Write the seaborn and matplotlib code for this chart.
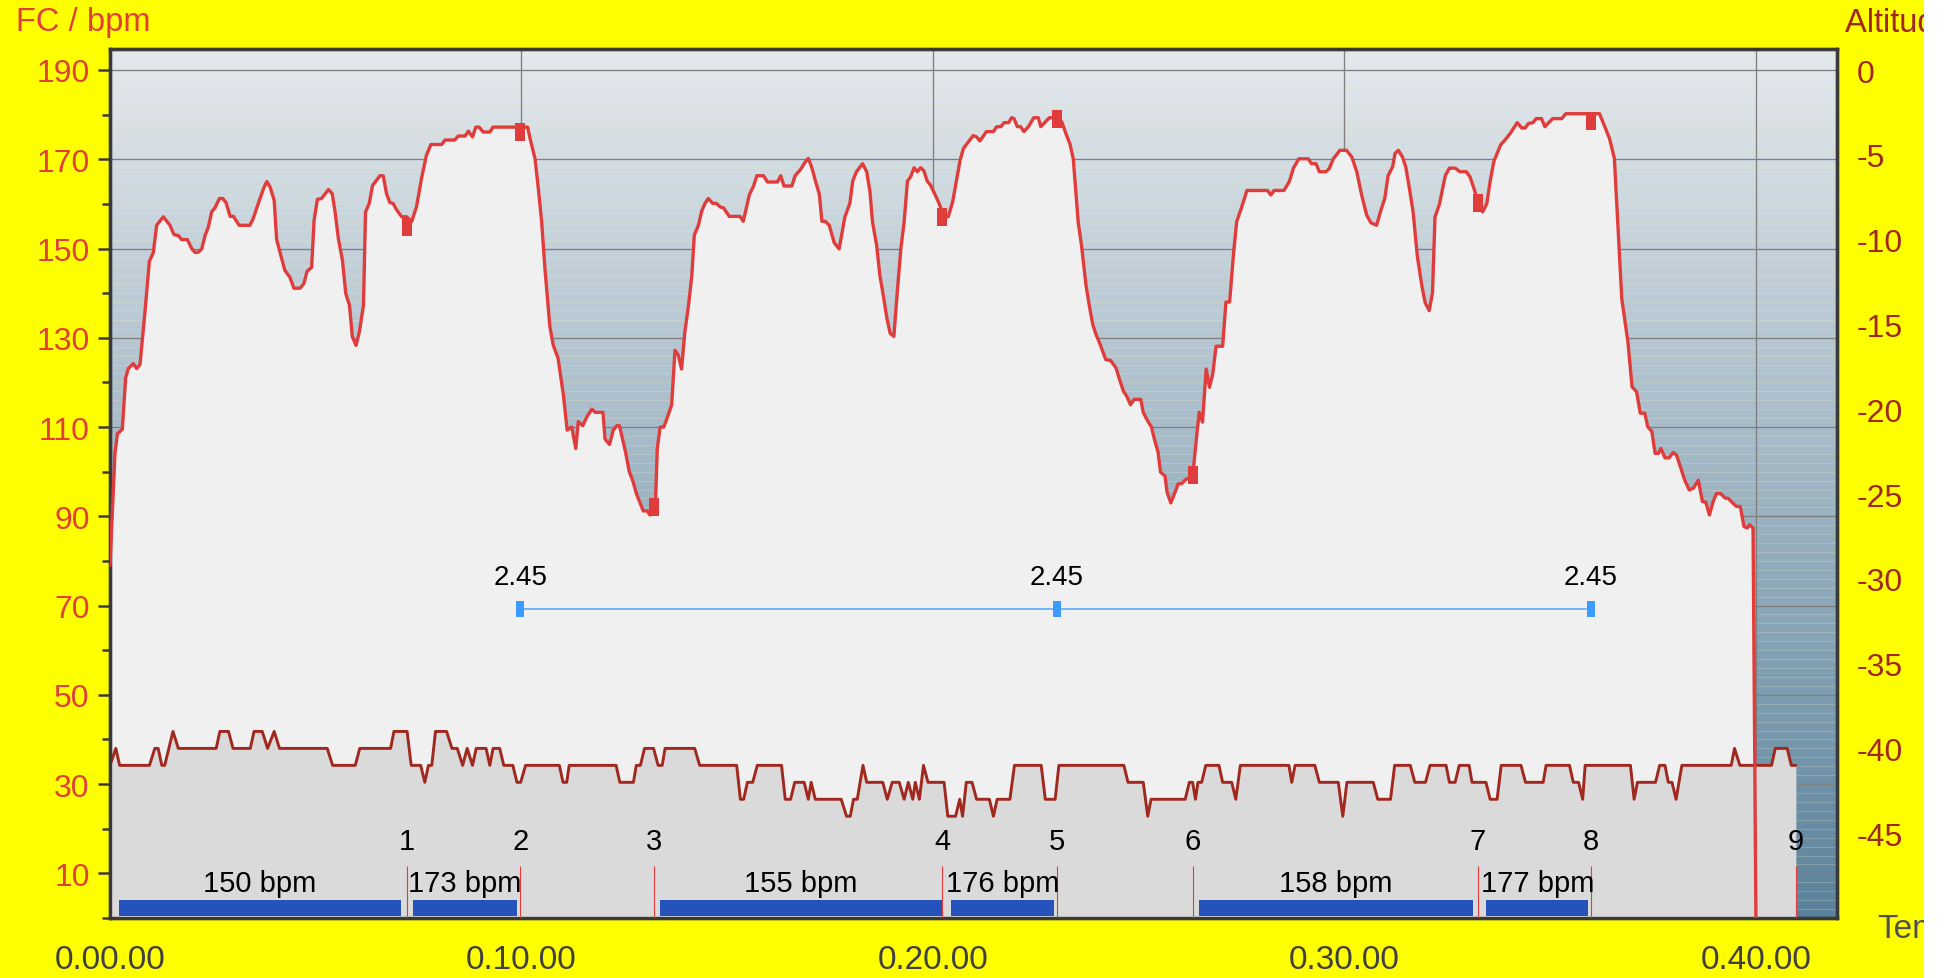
import numpy as np
import matplotlib
matplotlib.use("Agg")
import matplotlib.pyplot as plt
from matplotlib.ticker import FixedLocator, FuncFormatter
from matplotlib.colors import LinearSegmentedColormap
from matplotlib.patches import Rectangle
import seaborn as sns

sns.set_style("white")
plt.rcParams['font.family'] = ['Liberation Sans', 'DejaVu Sans']
plt.rcParams['axes.unicode_minus'] = False

# Heart rate (bpm) against elapsed time (minutes)
hr_time = [0.0, 0.12, 0.18, 0.3, 0.38, 0.445, 0.567, 0.648, 0.729, 0.85, 0.956, 1.053, 1.134, 1.296, 1.458,
           1.555, 1.66, 1.74, 1.88, 1.99, 2.07, 2.15, 2.23, 2.31, 2.39, 2.47, 2.55, 2.66, 2.74, 2.82, 2.92,
           3.0, 3.14, 3.40, 3.48, 3.60, 3.73, 3.81, 3.89, 3.99, 4.05, 4.13, 4.25, 4.37, 4.47, 4.62, 4.71,
           4.79, 4.90, 4.96, 5.04, 5.14, 5.31, 5.40, 5.47, 5.55, 5.65, 5.73, 5.82, 5.89, 5.98, 6.06, 6.16,
           6.21, 6.30, 6.38, 6.48, 6.56, 6.64, 6.72, 6.80, 6.88, 6.97, 7.09, 7.21, 7.33, 7.45, 7.57, 7.69,
           7.80, 8.06, 8.14, 8.38, 8.46, 8.63, 8.71, 8.81, 8.89, 8.97, 9.07, 9.23, 9.31, 10.15, 10.21,
           10.33, 10.41, 10.49, 10.57, 10.69, 10.77, 10.89, 11.02, 11.11, 11.22, 11.32, 11.38, 11.49,
           11.59, 11.71, 11.79, 11.98, 12.03, 12.14, 12.23, 12.32, 12.38, 12.52, 12.62, 12.70, 12.80,
           12.96, 13.06, 13.12, 13.25, 13.30, 13.37, 13.46, 13.55, 13.65, 13.73, 13.81, 13.89, 13.97,
           14.06, 14.14, 14.20, 14.30, 14.38, 14.46, 14.54, 14.65, 14.74, 14.83, 14.91, 15.05, 15.31,
           15.39, 15.54, 15.64, 15.72, 15.88, 15.98, 16.22, 16.30, 16.38, 16.57, 16.65, 16.79, 16.89,
           16.97, 17.05, 17.14, 17.24, 17.30, 17.38, 17.48, 17.60, 17.72, 17.86, 17.98, 18.05, 18.14,
           18.29, 18.39, 18.47, 18.53, 18.63, 18.71, 18.79, 18.88, 18.96, 19.05, 19.14, 19.22, 19.30,
           19.38, 19.46, 19.54, 19.62, 19.70, 19.78, 19.86, 19.94, 20.05, 20.15, 20.25, 20.37, 20.48,
           20.58, 20.66, 20.74, 20.86, 20.98, 21.06, 21.14, 21.30, 21.47, 21.55, 21.65, 21.73, 21.84,
           21.91, 21.97, 22.05, 22.13, 22.21, 22.32, 22.45, 22.56, 22.62, 22.83, 23.01, 23.13, 23.25,
           23.33, 23.41, 23.53, 23.61, 23.72, 23.80, 23.88, 23.96, 24.06, 24.20, 24.32, 24.45, 24.53,
           24.63, 24.71, 24.80, 24.89, 25.05, 25.11, 25.21, 25.31, 25.39, 25.47, 25.53, 25.64, 25.69,
           25.78, 25.88, 25.96, 26.04, 26.15, 26.31, 26.41, 26.47, 26.55, 26.64, 26.72, 26.80, 26.88,
           27.04, 27.12, 27.21, 27.30, 27.38, 27.50, 27.63, 28.13, 28.21, 28.29, 28.53, 28.66, 28.76,
           28.89, 29.12, 29.20, 29.31, 29.39, 29.55, 29.63, 29.73, 29.89, 30.05, 30.18, 30.30, 30.42,
           30.54, 30.64, 30.78, 30.88, 30.98, 31.06, 31.17, 31.23, 31.31, 31.41, 31.49, 31.58, 31.67,
           31.77, 31.88, 31.96, 32.06, 32.14, 32.20, 32.31, 32.45, 32.55, 32.69, 32.81, 32.96, 33.05,
           33.15, 33.25, 33.36, 33.46, 33.54, 33.63, 33.80, 33.90, 34.03, 34.20, 34.31, 34.39, 34.47,
           34.58, 34.66, 34.79, 34.87, 35.06, 35.28, 35.38, 36.2, 36.44, 36.56, 36.66, 36.74, 36.89,
           36.99, 37.10, 37.19, 37.30, 37.37, 37.47, 37.55, 37.63, 37.69, 37.79, 37.89, 37.99, 38.07,
           38.15, 38.27, 38.38, 38.48, 38.60, 38.70, 38.78, 38.87, 38.96, 39.04, 39.14, 39.25, 39.33,
           39.41, 39.53, 39.62, 39.71, 39.79, 39.85, 39.93, 40.0]
hr_bpm = [79, 104, 108.5, 109.5, 121, 123.1, 124.2, 123.1, 124.0, 135.8, 147.1, 149.1, 155.2, 157.1, 155.2,
          153.1, 152.9, 152.0, 152.0, 149.9, 149.1, 149.2, 149.9, 152.9, 154.8, 158.2, 159.1, 161.2, 161.2,
          160.3, 157.2, 157.2, 155.2, 155.2, 156.7, 160.0, 163.4, 165.0, 163.8, 160.8, 152.0, 149.2, 145.1,
          143.6, 141.1, 141.1, 142.1, 144.9, 145.8, 156.3, 161.0, 161.2, 163.2, 162.3, 158.2, 152.2, 147.3,
          139.9, 137.3, 130.2, 128.3, 131.3, 137.3, 158.2, 160.1, 164.1, 165.3, 166.3, 166.3, 162.3, 160.3,
          160.1, 158.6, 157.1, 157.1, 156.0, 159.4, 165.7, 170.9, 173.3, 173.3, 174.3, 174.3, 175.2, 175.2,
          176.3, 175.0, 177.2, 177.2, 176.1, 176.1, 177.2, 177.2, 174.6, 170.1, 163.4, 156.0, 145.5, 132.5,
          128.4, 125.4, 117.1, 109.3, 110.0, 105.2, 111.2, 110.3, 112.3, 114.0, 113.3, 113.3, 107.3, 106.1,
          109.3, 110.3, 110.3, 104.8, 100.0, 98.1, 94.9, 91.2, 91.2, 90.3, 91.0, 105.2, 110.0, 110.0, 112.3,
          115.0, 127.2, 126.1, 123.0, 131.3, 137.3, 144.0, 153.0, 155.2, 158.4, 160.1, 161.2, 160.1, 160.1,
          159.3, 159.1, 157.2, 157.2, 156.1, 162.1, 164.0, 166.3, 166.3, 164.9, 164.9, 166.3, 164.0, 164.0,
          166.3, 167.8, 169.3, 170.2, 168.3, 165.3, 162.1, 156.1, 156.1, 155.2, 151.3, 149.9, 157.1, 160.1,
          165.1, 167.2, 169.0, 167.2, 162.7, 156.0, 150.8, 144.0, 139.6, 134.4, 131.0, 130.3, 141.1, 150.0,
          156.0, 165.1, 166.1, 168.1, 167.2, 168.1, 167.4, 165.1, 164.2, 162.1, 160.1, 157.5, 157.1, 160.5,
          165.7, 169.8, 172.4, 173.9, 175.3, 175.0, 174.1, 176.2, 176.2, 177.3, 177.3, 178.2, 178.2, 179.3,
          179.1, 177.3, 177.3, 176.2, 177.3, 179.3, 179.3, 177.3, 179.3, 179.3, 178.4, 175.3, 173.4, 170.1,
          155.9, 150.7, 141.7, 137.2, 133.1, 130.8, 128.6, 125.1, 124.9, 123.2, 120.8, 118.0, 116.9, 115.0,
          116.2, 116.2, 113.3, 111.5, 110.0, 107.0, 104.4, 99.9, 99.0, 95.4, 93.0, 95.3, 97.3, 97.3, 98.3,
          98.8, 108.1, 113.3, 111.1, 123.0, 118.9, 121.9, 128.1, 128.1, 138.0, 138.0, 148.4, 156.0, 159.2,
          163.0, 163.0, 162.0, 163.0, 163.0, 165.0, 168.0, 170.1, 170.1, 169.0, 169.0, 167.2, 167.2, 167.9,
          170.1, 172.0, 172.0, 170.5, 167.2, 161.9, 157.5, 155.8, 155.2, 158.4, 161.2, 166.3, 168.3, 171.3,
          172.0, 170.5, 168.3, 163.4, 158.1, 148.4, 141.7, 137.9, 136.1, 140.1, 157.0, 160.0, 166.3, 168.0,
          168.0, 167.2, 167.2, 166.1, 163.4, 160.1, 158.2, 160.1, 165.0, 169.5, 173.3, 174.3, 175.8, 178.2,
          177.0, 177.0, 178.0, 178.2, 179.1, 179.1, 177.3, 179.1, 179.1, 180.2, 180.2, 174.7, 170.2, 152.9,
          138.7, 129.0, 119.0, 117.9, 113.1, 113.1, 110.1, 109.0, 104.1, 104.1, 105.2, 103.1, 103.1, 104.3,
          103.7, 101.5, 98.1, 95.9, 96.3, 98.1, 93.3, 93.2, 90.3, 93.3, 95.1, 95.1, 94.1, 94.0, 93.2, 92.2,
          92.2, 87.7, 87.4, 88.1, 87.4, 0]

# Altitude (m) against elapsed time (minutes)
alt_time = [0.0, 0.142, 0.234, 0.959, 1.09, 1.17, 1.26, 1.33, 1.53, 1.66, 2.58, 2.67, 2.88, 2.99, 3.41, 3.50,
            3.70, 3.83, 3.99, 4.12, 5.28, 5.41, 5.96, 6.07, 6.82, 6.90, 7.22, 7.32, 7.55, 7.65, 7.74, 7.82,
            7.91, 8.18, 8.31, 8.44, 8.57, 8.68, 8.81, 8.90, 9.14, 9.23, 9.31, 9.47, 9.57, 9.79, 9.89, 9.98,
            10.10, 10.92, 11.01, 11.10, 11.16, 12.30, 12.39, 12.72, 12.79, 12.89, 12.99, 13.21, 13.32, 13.42,
            13.49, 14.21, 14.33, 15.23, 15.32, 15.40, 15.49, 15.62, 15.73, 16.32, 16.41, 16.54, 16.64, 16.87,
            16.97, 17.04, 17.14, 17.77, 17.90, 17.99, 18.07, 18.16, 18.30, 18.39, 18.78, 18.89, 19.01, 19.18,
            19.30, 19.40, 19.51, 19.57, 19.67, 19.77, 19.88, 20.27, 20.36, 20.55, 20.65, 20.72, 20.81, 20.95,
            21.06, 21.37, 21.47, 21.56, 21.87, 21.98, 22.63, 22.73, 22.97, 23.06, 24.64, 24.74, 25.11, 25.22,
            25.30, 26.13, 26.23, 26.31, 26.38, 26.44, 26.53, 26.63, 26.95, 27.04, 27.26, 27.36, 27.47, 28.65,
            28.72, 28.80, 29.28, 29.39, 29.85, 29.96, 30.06, 30.70, 30.81, 31.12, 31.22, 31.60, 31.71, 31.97,
            32.08, 32.47, 32.55, 32.69, 32.79, 33.03, 33.10, 33.44, 33.54, 33.71, 33.81, 34.29, 34.40, 34.83,
            34.90, 35.47, 35.56, 35.69, 35.79, 35.85, 36.95, 37.04, 37.12, 37.56, 37.66, 37.79, 37.87, 37.96,
            38.06, 38.20, 39.40, 39.48, 39.61, 40.38, 40.47, 40.76, 40.86, 40.97]
alt_m = [-41, -40, -41, -41, -40, -40, -41, -41, -39, -40, -40, -39, -39, -40, -40, -39,
         -39, -40, -39, -40, -40, -41, -41, -40, -40, -39, -39, -41, -41, -42, -41, -41,
         -39, -39, -40, -40, -41, -40, -41, -40, -40, -41, -40, -40, -41, -41, -42, -42,
         -41, -41, -42, -42, -41, -41, -42, -42, -41, -41, -40, -40, -41, -41,
         -40, -40, -41, -41, -43, -43, -42, -42, -41, -41, -43, -43, -42, -42,
         -43, -42, -43, -43, -44, -44, -43, -43, -41, -42, -42, -43, -42, -42,
         -43, -42, -43, -42, -43, -41, -42, -42, -44, -44, -43, -44, -42, -42,
         -43, -43, -44, -43, -43, -41, -41, -43, -43, -41, -41, -42, -42, -44,
         -43, -43, -42, -42, -43, -42, -42, -41, -41, -42, -42, -43, -41, -41,
         -42, -41, -41, -42, -42, -44, -42, -42, -43, -43, -41, -41, -42, -42,
         -41, -41, -42, -42, -41, -41, -42, -42, -43, -43, -41, -41, -42, -42,
         -41, -41, -42, -42, -43, -41, -41, -43, -42, -42, -41, -41, -42, -42,
         -43, -41, -41, -40, -41, -41, -40, -40, -41, -41]

# Laps
lap_time = [7.22, 9.97, 13.21, 20.23, 23.01, 26.31, 33.24, 35.99, 40.97]
lap_names = ["1", "2", "3", "4", "5", "6", "7", "8", "9"]
lap_hr = [154.9, 176.1, 92.0, 157.1, 179.0, 99.2, 160.2, 178.5]

# Work intervals with their mean heart rate
interval_start = [0.22, 7.36, 13.37, 20.44, 26.46, 33.45]
interval_end = [7.06, 9.88, 20.21, 22.95, 33.12, 35.93]
interval_labels = ["150 bpm", "173 bpm", "155 bpm", "176 bpm", "158 bpm", "177 bpm"]

# Lap distance markers
dist_time = [9.97, 23.01, 35.99]
dist_value = [2.45, 2.45, 2.45]

HR_RED = '#e03c3c'
ALT_RED = '#a0281e'
SPINE = '#3a3a3a'
XMAX, YMAX = 41.97, 194.7
DIST_Y = 69.3

fig = plt.figure(figsize=(19.52, 9.79), dpi=100, facecolor='#ffff00')
ax = fig.add_axes([0.05635, 0.06129, 0.88473, 0.88764])
ax.set_xlim(0, XMAX)
ax.set_ylim(0, YMAX)

# gradient background
cmap = LinearSegmentedColormap.from_list('bg', ['#5b829b', '#e4e9ed'])
grad = np.linspace(0, 1, 256).reshape(-1, 1)
ax.imshow(grad, extent=[0, XMAX, 0, YMAX], origin='lower', aspect='auto', cmap=cmap, zorder=0)

# faint minor lines
for yv in np.arange(2, YMAX, 2):
    ax.axhline(yv, color='#eef2c0', lw=0.6, alpha=0.28, zorder=0.3)

ax.yaxis.set_major_locator(FixedLocator(list(range(10, 191, 20))))
ax.yaxis.set_minor_locator(FixedLocator(list(range(0, 191, 20))))
ax.xaxis.set_major_locator(FixedLocator([0, 10, 20, 30, 40]))
ax.xaxis.set_minor_locator(FixedLocator([5, 15, 25, 35]))
ax.xaxis.set_major_formatter(FuncFormatter(lambda m, p: f"0.{int(round(m)):02d}.00"))
ax.grid(True, which='major', color='#7f7f7f', lw=0.95, zorder=0.5)
ax.set_axisbelow(True)

ax.fill_between(hr_time, hr_bpm, 0, color='#f0f0f0', lw=0, zorder=1)

ax.tick_params(axis='x', which='both', length=8.6, width=1.8, color=SPINE,
               labelsize=24, labelcolor='#404040', pad=10)
ax.tick_params(axis='y', which='major', length=8.6, width=1.8, color=SPINE,
               labelsize=23, labelcolor='#e0403a', pad=6)
ax.tick_params(axis='y', which='minor', length=5.8, width=1.8, color=SPINE)

# altitude on the right axis
ax2 = ax.twinx()
ax2.set_ylim(-50, 1.24)
ax2.fill_between(alt_time, alt_m, -50, color='#dadada', lw=0, zorder=1)
sns.lineplot(x=alt_time, y=alt_m, ax=ax2, color=ALT_RED, lw=2.1, zorder=2, sort=False)

# heart rate line and lap markers drawn in left-axis units
td = ax.transData
sns.lineplot(x=hr_time, y=hr_bpm, ax=ax2, color=HR_RED, lw=2.4, zorder=3, sort=False, transform=td)
lap_marker = [(-0.28, -0.5), (0.28, -0.5), (0.28, 0.5), (-0.28, 0.5)]
ax2.plot(lap_time[:8], lap_hr, ls='none', marker=lap_marker, ms=13, color=HR_RED,
         mec=HR_RED, mew=0, transform=td, zorder=4)

# distance markers
dist_marker = [(-0.25, -0.5), (0.25, -0.5), (0.25, 0.5), (-0.25, 0.5)]
ax2.plot(dist_time, [DIST_Y] * len(dist_time), color='#4da6ff', lw=1.1, transform=td, zorder=4)
ax2.plot(dist_time, [DIST_Y] * len(dist_time), ls='none', marker=dist_marker, ms=12.2,
         color='#3d9bff', mew=0, transform=td, zorder=5)
for t, v in zip(dist_time, dist_value):
    ax2.text(t, DIST_Y + 7.2, f"{v:.2f}", ha='center', va='center', fontsize=20,
             color='black', transform=td, zorder=6)

# lap separators
ax2.vlines(lap_time, 0, 11.6, color=HR_RED, lw=0.8, transform=td, zorder=4)
for t, name in zip(lap_time, lap_names):
    ax2.text(t, 17.3, name, ha='center', va='center', fontsize=21, color='black',
             transform=td, zorder=6)

# interval bars
ax2.bar(interval_start, 3.5, width=np.array(interval_end) - np.array(interval_start),
        bottom=0.5, align='edge', color='#2553bb', lw=0, transform=td, zorder=5)
for s, e, lab in zip(interval_start, interval_end, interval_labels):
    ax2.text((s + e) / 2, 7.8, lab, ha='center', va='center', fontsize=21, color='black',
             transform=td, zorder=6)

ax2.set_ylim(-50, 1.24)
ax.set_xlim(0, XMAX)
ax2.set_xlabel('')
ax2.set_ylabel('')
ax.set_ylabel('')
ax2.yaxis.set_major_locator(FixedLocator(list(range(-45, 1, 5))))
ax2.yaxis.set_minor_locator(FixedLocator(list(range(-40, 1, 10))))
ax2.yaxis.set_major_formatter(FuncFormatter(lambda v, p: f"{int(round(v))}"))
ax2.tick_params(axis='y', which='major', length=0, labelsize=23, labelcolor=ALT_RED, pad=14)
ax2.tick_params(axis='y', which='minor', length=5.8, width=1.8, color=SPINE)

for a in (ax, ax2):
    for sp in a.spines.values():
        sp.set_color(SPINE)
        sp.set_linewidth(2.4)

fig.text(16 / 1952, 1 - 23 / 979, "FC / bpm", color='#e0403a', fontsize=23.5, ha='left', va='center')
fig.text(1845 / 1952, 1 - 23 / 979, "Altitude / m", color=ALT_RED, fontsize=23.5, ha='left', va='center')
fig.text(1877 / 1952, 1 - 930 / 979, "Temps", color='#505050', fontsize=24, ha='left', va='center')

# white strip at the right edge of the image
fig.patches.append(Rectangle((1924 / 1952, 0), 1 - 1924 / 1952, 1, transform=fig.transFigure,
                             facecolor='white', edgecolor='none', zorder=10))

fig.savefig('out.png', dpi=100, facecolor=fig.get_facecolor())
